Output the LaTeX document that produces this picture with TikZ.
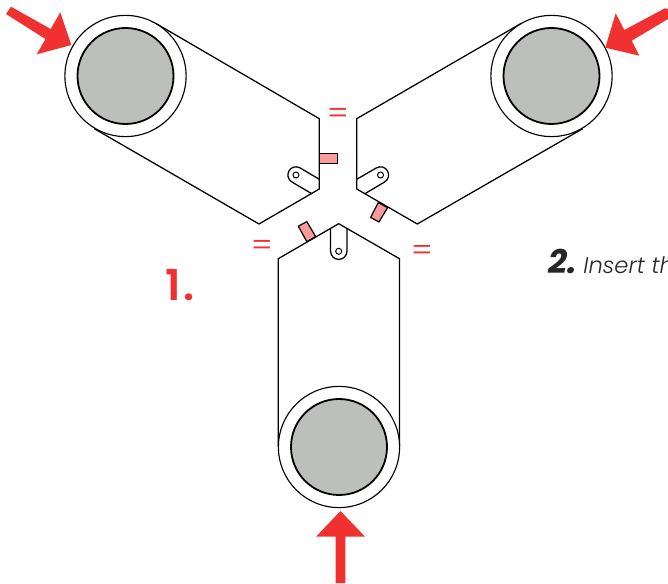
\documentclass[tikz,border=0pt]{standalone}
\usepackage{fontspec}
\setmainfont{Poppins}
\newfontfamily\lightfont[ItalicFont={Poppins Light Italic}]{Poppins Light}
\newfontfamily\mediumfont{Poppins SemiBold}
\definecolor{arrowred}{RGB}{241,49,47}
\definecolor{tabpink}{RGB}{249,154,155}
\definecolor{padgray}{RGB}{189,191,189}
\tikzset{
  panel/.style={black,line width=0.95pt,line join=miter},
  ring/.style={black,line width=0.85pt,fill=white},
  pad/.style={black,line width=1.35pt,fill=padgray},
  tabpiece/.style={black,line width=0.9pt,fill=tabpink,line join=round},
  pushmark/.style={fill=arrowred,draw=none},
  equalmark/.style={text=arrowred,inner sep=0pt,font=\lightfont\fontsize{24}{24}\selectfont},
}
\begin{document}
\begin{tikzpicture}[x=0.75pt,y=0.75pt,yscale=-1]
\useasboundingbox (0,0) rectangle (668,584);

%Panels
\draw [panel] (155.5,23.2) -- (319.3,118.7) -- (319.3,189) -- (259,224) -- (94.5,128.8) ;
\draw [panel] (521.5,23.2) -- (356.7,118.7) -- (356.7,189) -- (417.3,224) -- (582.5,128.8) ;
\draw [panel] (278.3,447) -- (278.3,258.7) -- (338.7,223.7) -- (399.5,258.7) -- (399.5,447) ;

%Rings and pads
\draw [ring] (125.5,76) circle [radius=60.6] ;
\draw [pad] (125.5,76) circle [radius=48] ;
\draw [ring] (551.5,76) circle [radius=60.6] ;
\draw [pad] (551.5,76) circle [radius=48] ;
\draw [ring] (339,447) circle [radius=60.6] ;
\draw [pad] (339,447) circle [radius=48] ;

%Round tabs
\draw [panel] (319.3,179.3) -- (300.1,167.9) arc [start angle=300,end angle=120,radius=8.15] -- (311.7,193.7) ;
\draw [panel] (356.7,179.3) -- (376.4,167.9) arc [start angle=240,end angle=420,radius=8.15] -- (365,193.7) ;
\draw [panel] (330.6,228.4) -- (330.6,251.3) arc [start angle=180,end angle=0,radius=8.15] -- (346.9,228.4) ;
\draw [panel,line width=0.75pt] (296,175) circle [radius=3] ;
\draw [panel,line width=0.75pt] (380.5,175) circle [radius=3] ;
\draw [panel,line width=0.75pt] (338.7,251.3) circle [radius=3] ;

%Pink pieces
\draw [tabpiece] (319.3,153.3) -- (337.7,153.3) -- (337.7,163.7) -- (319.3,163.7) -- cycle ;
\draw [tabpiece] (378.2,202.7) -- (387.6,207.6) -- (379,222) -- (370.6,217.4) -- cycle ;
\draw [tabpiece] (306.8,241.7) -- (315.7,236.6) -- (306.8,221.6) -- (298.3,226.2) -- cycle ;

%Red arrows
\draw [pushmark] (11,6.7) -- (50.7,29) -- (60.3,12.3) -- (71.3,45) -- (36.7,54.3) -- (45.5,39) -- (6,14) -- cycle ;
\draw [pushmark] (665,8.3) -- (624.3,30) -- (615.7,13.3) -- (605.3,47.7) -- (639.3,55.7) -- (631.7,40.7) -- (668,19) -- (668,9) -- cycle ;
\draw [pushmark] (340.5,511) -- (365,536.7) -- (345.3,536.7) -- (345.3,583) -- (335.7,583) -- (335.7,536.7) -- (316,536.7) -- cycle ;

% Text Node
\node (equaltop) [equalmark] at (338.5,116) {=};
% Text Node
\node (equalleft) [equalmark] at (262.5,248) {=};
% Text Node
\node (equalright) [equalmark] at (422.5,253) {=};
% Text Node
\node (stepone) [anchor=base west,inner sep=0pt,text=arrowred,font=\mediumfont\fontsize{32}{32}\selectfont] at (165,301) {1\kern2pt.};
% Text Node
\node (steptwo) [anchor=base west,inner sep=0pt,text=black!85,font=\lightfont\fontsize{17}{17}\selectfont\itshape] at (548,274) {{\fontfamily{\rmdefault}\fontsize{25}{25}\selectfont\bfseries 2.}\ Insert th};

\end{tikzpicture}
\end{document}
